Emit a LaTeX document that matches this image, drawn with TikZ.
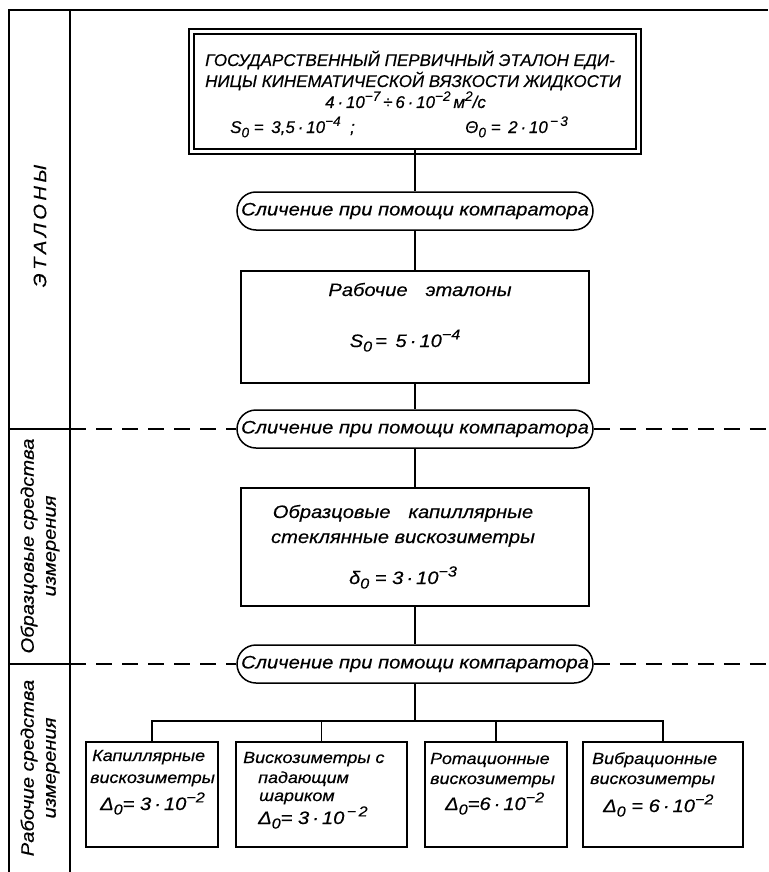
\documentclass[tikz,border=0pt]{standalone}
\usepackage{fontspec}
\usepackage{graphicx}
\setmainfont{Liberation Sans}
\newfontfamily\df{Liberation Sans}[FakeStretch=1.12,FakeBold=0.4]
\newfontfamily\dfc{Liberation Sans}[FakeStretch=1.0,FakeBold=0.4]
\newcommand\up[1]{\raisebox{.42em}{\scalebox{.8}{#1}}}
\newcommand\dn[1]{\raisebox{-.25em}{\scalebox{.8}{#1}}}
\begin{document}
\begin{tikzpicture}[x=1pt,y=-1pt,
  every node/.style={font=\df\itshape\fontsize{18}{22}\selectfont, inner sep=0pt},
  capsfont/.style={font=\dfc\itshape\fontsize{17}{20}\selectfont},
  smallfont/.style={font=\df\itshape\fontsize{16}{20}\selectfont},
  frame/.style={line width=1.5pt},
  blk/.style={draw, line width=1.5pt},
  ovl/.style={draw, line width=1.5pt, rounded corners=19pt, minimum width=356pt, minimum height=38pt},
  link/.style={line width=1.4pt},
  dsh/.style={line width=1.5pt, dash pattern=on 16pt off 10pt},
  txt/.style={anchor=base west},
  ctr/.style={anchor=base},
]
\useasboundingbox (0,0) rectangle (768,872);

% frame
\draw[frame] (9,872) -- (9,10) -- (768,10);
\draw[frame] (70,10) -- (70,872);

% left labels
\node[rotate=90] (l1) at (40,226) {Э\hspace{3.5pt}Т\hspace{3.5pt}А\hspace{3.5pt}Л\hspace{3.5pt}О\hspace{3.5pt}Н\hspace{3.5pt}Ы};
\node[rotate=90, align=center] (l2) at (40,546) {Образцовые средства\\измерения};
\node[rotate=90, align=center] (l3) at (40,768) {Рабочие средства\\измерения};

% top box
\node[draw, line width=1.4pt, double, double distance=3.5pt, minimum width=447pt, minimum height=120pt] (top) at (415,91.5) {};
\node[txt, capsfont] (t1) at (205,66) {ГОСУДАРСТВЕННЫЙ ПЕРВИЧНЫЙ ЭТАЛОН ЕДИ-};
\node[txt, capsfont] (t2) at (205,87) {НИЦЫ КИНЕМАТИЧЕСКОЙ ВЯЗКОСТИ ЖИДКОСТИ};
\node[txt, capsfont] (t3) at (325,108) {4\,·\,10\up{−7}\,÷\,6\,·\,10\up{−2}\,м\up{2}/с};
\node[txt, capsfont] (t4a) at (230,133) {S\dn{0} = \,3,5\,·\,10\up{−4}\;\;;};
\node[txt, capsfont] (t4b) at (465,133) {Θ\dn{0} = \,2\,·\,10\up{\,−\,3}};

% ovals and boxes
\node[ovl] (o1) at (415,211) {Сличение при помощи компаратора};
\node[blk, minimum width=348pt, minimum height=112pt] (r1) at (415,327) {};
\node[ctr] (r1a) at (420,296) {Рабочие\quad эталоны};
\node[ctr] (r1b) at (405,347) {S\dn{0}\,= \,5\,·\,10\up{−4}};
\node[ovl] (o2) at (415,429) {Сличение при помощи компаратора};
\node[blk, minimum width=348pt, minimum height=118pt] (r2) at (415,547) {};
\node[ctr] (r2a) at (403,518) {Образцовые\quad капиллярные};
\node[ctr] (r2b) at (403,543) {стеклянные вискозиметры};
\node[ctr] (r2c) at (403,584) {δ\dn{0} = 3\,·\,10\up{−3}};
\node[ovl] (o3) at (415,664) {Сличение при помощи компаратора};

% bottom boxes
\node[blk, minimum width=132pt, minimum height=105pt] (b1) at (152,794.5) {};
\node[blk, minimum width=171pt, minimum height=105pt] (b2) at (321.5,794.5) {};
\node[blk, minimum width=142pt, minimum height=105pt] (b3) at (496,794.5) {};
\node[blk, minimum width=160pt, minimum height=105pt] (b4) at (663,794.5) {};
\node[txt, smallfont] (b1a) at (92,761) {Капиллярные};
\node[txt, smallfont] (b1b) at (90,783) {вискозиметры};
\node[txt] (b1c) at (100,810) {Δ\dn{0}= 3\,·\,10\up{−2}};
\node[txt, smallfont] (b2a) at (243,763) {Вискозиметры с};
\node[txt, smallfont] (b2b) at (258,783) {падающим};
\node[txt, smallfont] (b2c) at (259,801) {шариком};
\node[txt] (b2d) at (258,824) {Δ\dn{0}= 3\,·\,10\up{\,−\,2}};
\node[txt, smallfont] (b3a) at (430,764) {Ротационные};
\node[txt, smallfont] (b3b) at (430,784) {вискозиметры};
\node[txt] (b3c) at (445,810) {Δ\dn{0}=6\,·\,10\up{−2}};
\node[txt, smallfont] (b4a) at (592,764) {Вибрационные};
\node[txt, smallfont] (b4b) at (590,784) {вискозиметры};
\node[txt] (b4c) at (603,812) {Δ\dn{0} = 6\,·\,10\up{−2}};

% connectors
\draw[link] ([yshift=3.5pt]top.south) -- (o1.north);
\draw[link] (o1.south) -- (r1.north);
\draw[link] (r1.south) -- (o2.north);
\draw[link] (o2.south) -- (r2.north);
\draw[link] (r2.south) -- (o3.north);
\coordinate (bar) at (415,721);
\draw[link] (o3.south) -- (bar);
\draw[link] (b1.north) |- (bar) -| (b4.north);
\draw[link] (b2.north) |- (bar);
\draw[link] (b3.north) |- (bar);

% dividers
\coordinate (d1l) at (70,429);
\coordinate (d1r) at (768,429);
\coordinate (d1o) at (9,429);
\coordinate (d2l) at (70,664);
\coordinate (d2r) at (768,664);
\coordinate (d2o) at (9,664);
\draw[frame] (d1o) -- (d1l);
\draw[frame] (d2o) -- (d2l);
\draw[dsh] (d1l) -- (o2.west);
\draw[dsh] (o2.east) -- (d1r);
\draw[dsh] (d2l) -- (o3.west);
\draw[dsh] (o3.east) -- (d2r);
\end{tikzpicture}
\end{document}
